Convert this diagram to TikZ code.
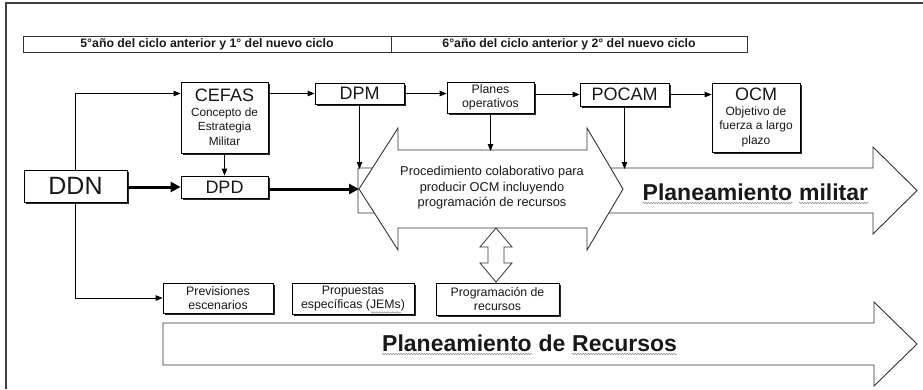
\documentclass[tikz,border=0pt]{standalone}
\usepackage{fontspec}
\setmainfont{Liberation Sans}
\usetikzlibrary{arrows.meta,shadows,decorations.pathmorphing}
\newcommand\fsz[2]{\fontsize{#1}{#2}\selectfont}
\begin{document}
\begin{tikzpicture}[x=1pt,y=-1pt,
  box/.style={draw=black, line width=0.8pt, fill=white,
    drop shadow={shadow xshift=2pt,shadow yshift=-2pt,fill=black!85,opacity=1},
    inner sep=0.5pt, align=center, text=black!90},
  conn/.style={draw=black, line width=0.8pt, -{Triangle[length=7pt,width=5.5pt]}},
  thick conn/.style={draw=black, line width=3pt, -{Triangle[length=10pt,width=10pt]}},
  bigarrow/.style={draw=black!80, line width=0.9pt, fill=white, line join=miter},
  hdr/.style={draw=black!80, line width=0.9pt},
  txt/.style={text=black!90, inner sep=0pt, align=center},
  big/.style={text=black!90, inner sep=0pt, anchor=base west, font=\fsz{23}{26}\bfseries},
  squiggle/.style={draw=black!45, line width=0.5pt, decorate,
    decoration={snake, amplitude=0.8pt, segment length=2.6pt}}]
\useasboundingbox (0,0) rectangle (923,389);
\fill[white] (0,0) rectangle (923,389);
% frame
\draw[line width=1.6pt, black!75] (6,389) -- (6,3) -- (923,3);
% header
\draw[hdr] (23,36) rectangle (747,52);
\draw[hdr] (391,36) -- (391,52);
\node[txt, font=\fsz{12.3}{14}\bfseries] (h1) at (207,44.5) {5°año del ciclo anterior y 1° del nuevo ciclo};
\node[txt, font=\fsz{12.3}{14}\bfseries] (h2) at (569,44.5) {6°año del ciclo anterior y 2° del nuevo ciclo};
% key coordinates of big arrows
\coordinate (milTL) at (358,168);
\coordinate (tipL) at (359,189);
\coordinate (dblTop) at (398,150);
% Planeamiento militar arrow
\draw[bigarrow] (milTL) -- (873,168) -- (873,147) -- (917,190.5) -- (873,234) -- (873,213) -- (358,213) -- cycle;
% double arrow
\draw[bigarrow] (tipL) -- (398,128) -- (dblTop) -- (587,150) -- (587,128) -- (623,189) -- (587,250) -- (587,228) -- (398,228) -- (398,250) -- cycle;
\node[txt, font=\fsz{12.8}{15.5}] (proc) at (492,188) {Procedimiento colaborativo para\\producir OCM incluyendo\\programación de recursos};
\node[big] (milA) at (642.5,200) {Planeamiento};
\node[big] (milB) at ([xshift=6.4pt]milA.base east) {militar};
\draw[squiggle] ([yshift=-3pt]milA.base west) -- ([yshift=-3pt]milA.base east);
\draw[squiggle] ([yshift=-3pt]milB.base west) -- ([yshift=-3pt]milB.base east);
% Planeamiento de recursos arrow
\draw[bigarrow] (163,323) -- (874,323) -- (874,302) -- (917,344) -- (874,386) -- (874,365) -- (163,365) -- cycle;
\node[big] (recA) at (382,351) {Planeamiento};
\node[big] (recB) at ([xshift=6.4pt]recA.base east) {de};
\node[big] (recC) at ([xshift=6.4pt]recB.base east) {Recursos};
\draw[squiggle] ([yshift=-3pt]recA.base west) -- ([yshift=-3pt]recA.base east);
\draw[squiggle] ([yshift=-3pt]recC.base west) -- ([yshift=-3pt]recC.base east);
% up-down arrow
\draw[bigarrow, line width=0.8pt] (496,228) -- (512,247) -- (504,247) -- (504,263) -- (512,263) -- (496,282) -- (480,263) -- (488,263) -- (488,247) -- (480,247) -- cycle;
% boxes
\node[box, minimum width=87pt, minimum height=71pt, font=\fsz{11.8}{14.5}] (cefas) at (224.5,117.5)
  {{\fsz{18}{19}CEFAS}\\Concepto de\\Estrategia\\Militar};
\node[box, minimum width=89pt, minimum height=21pt, font=\fsz{18}{20}] (dpm) at (359.5,93.5) {DPM};
\node[box, minimum width=87pt, minimum height=31pt, font=\fsz{12.3}{14}] (planes) at (490.5,97.5) {Planes\\operativos};
\node[box, minimum width=89pt, minimum height=23pt, font=\fsz{18}{20}] (pocam) at (624.5,94.5) {POCAM};
\node[box, minimum width=88pt, minimum height=69pt, font=\fsz{12}{14.5}] (ocm) at (756,117.5)
  {{\fsz{18}{19}OCM}\\Objetivo de\\fuerza a largo\\plazo};
\node[box, minimum width=103pt, minimum height=32pt, font=\fsz{25}{28}] (ddn) at (75.5,186) {DDN};
\node[box, minimum width=87pt, minimum height=22pt, font=\fsz{18}{20}] (dpd) at (224.5,187) {DPD};
\node[box, minimum width=110pt, minimum height=30pt, font=\fsz{12.3}{14.5}] (prev) at (218,298) {Previsiones\\escenarios};
\node[box, minimum width=122pt, minimum height=31pt, font=\fsz{12.3}{14.5}] (prop) at (353,298.5) {Propuestas\\específicas (JEMs)};
\draw[squiggle] ([shift={(18,14)}]prop.center) -- ([shift={(48,14)}]prop.center);
\node[box, minimum width=123pt, minimum height=32pt, font=\fsz{12.3}{14.5}] (prog) at (497.5,299) {Programación de\\recursos};
% connectors
\draw[conn] (ddn.north) |- (cefas.west |- dpm.west);
\draw[conn] (cefas.east |- dpm.west) -- (dpm.west);
\draw[conn] (dpm.east) -- (dpm.east -| planes.west);
\draw[conn] (planes.east |- pocam.west) -- (pocam.west);
\draw[conn] (pocam.east) -- (pocam.east -| ocm.west);
\draw[conn] (cefas.south) -- (dpd.north);
\draw[conn] (dpm.south) -- ([yshift=-1pt]dpm.south |- milTL);
\draw[conn] (planes.south) -- ([yshift=-1pt]planes.south |- dblTop);
\draw[conn] (pocam.south) -- ([yshift=-1pt]pocam.south |- milTL);
\draw[conn] (ddn.south) |- (prev.west);
\draw[thick conn] (ddn.east |- dpd.west) -- (dpd.west);
\draw[thick conn] (dpd.east |- tipL) -- (tipL);
\end{tikzpicture}
\end{document}
